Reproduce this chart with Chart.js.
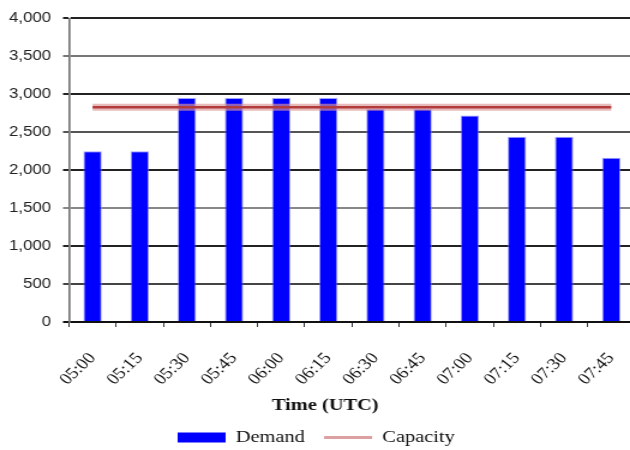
<!DOCTYPE html>
<html>
<head>
<meta charset="utf-8">
<script src="https://cdn.jsdelivr.net/npm/chart.js@4/dist/chart.umd.min.js"></script>
<style>
  html, body { margin: 0; padding: 0; background: #fff; overflow: hidden; }
  /* the chart is laid out narrow and widened horizontally */
  #wrap { width: 538px; height: 450px; transform: scaleX(1.2); transform-origin: 0 0; }
  canvas { display: block; }
</style>
</head>
<body>
<div id="wrap"><canvas id="c" width="538" height="450"></canvas></div>
<script>
// Demand vs capacity per 15-minute slot
const categories = ['05:00', '05:15', '05:30', '05:45', '06:00', '06:15',
                    '06:30', '06:45', '07:00', '07:15', '07:30', '07:45'];
const demand   = [2250, 2250, 2950, 2950, 2950, 2950, 2810, 2810, 2720, 2440, 2440, 2165];
const capacity = [2830, 2830, 2830, 2830, 2830, 2830, 2830, 2830, 2830, 2830, 2830, 2830];
const yTicks   = [0, 500, 1000, 1500, 2000, 2500, 3000, 3500, 4000];
const xTitle   = 'Time (UTC)';

// gridline shade for each y tick (0 .. 4000)
const gridShades = ['#111', '#444', '#222', '#888', '#222', '#555', '#222', '#777', '#222'];

const axisTitle = {
  id: 'axisTitle',
  afterDraw(chart) {
    const { ctx } = chart;
    const x = chart.scales.x;
    ctx.save();
    ctx.font = 'bold 17px "Liberation Serif"';
    ctx.fillStyle = '#111';
    ctx.textAlign = 'center';
    ctx.textBaseline = 'middle';
    ctx.fillText(xTitle, chart.width / 2 + 2, x.bottom - 7);
    ctx.restore();
  }
};

new Chart(document.getElementById('c'), {
  data: {
    labels: categories,
    datasets: [
      {
        type: 'line', label: 'Capacity', data: capacity, order: 0,
        borderColor: '#b23c3c', borderWidth: 2.5,
        pointRadius: 0, fill: false, tension: 0
      },
      {
        type: 'line', label: 'Capacity halo', data: capacity, order: 1,
        borderColor: 'rgba(220,150,150,0.65)', borderWidth: 7,
        pointRadius: 0, fill: false, tension: 0
      },
      {
        type: 'bar', label: 'Demand', data: demand, order: 2,
        backgroundColor: '#0000ff', borderColor: 'rgba(120,120,255,0.7)', borderWidth: 1,
        barPercentage: 0.39, categoryPercentage: 1.0
      }
    ]
  },
  options: {
    responsive: false,
    animation: false,
    devicePixelRatio: 1,
    layout: { autoPadding: false, padding: { left: -2, right: 9, top: 14.4, bottom: -6 } },
    scales: {
      x: {
        offset: true,
        grid: { drawOnChartArea: false, drawTicks: true, tickLength: 5, offset: true, color: '#333', lineWidth: 1 },
        border: { color: '#111', width: 2 },
        ticks: {
          maxRotation: 48, minRotation: 48, padding: 22, autoSkip: false,
          color: '#111', font: { family: '"Liberation Serif"', size: 16 }
        },
        afterFit(scale) {
          scale.height = 91;
          // the plot runs right up to the edges; no room kept for rotated labels
          scale.paddingLeft = 0;
          scale.paddingRight = 0;
        }
      },
      y: {
        min: 0, max: 4000,
        afterBuildTicks(scale) { scale.ticks = yTicks.map(v => ({ value: v })); },
        afterFit(scale) { scale.width = 59.5; },
        grid: {
          color: ctx => gridShades[ctx.index] || '#222',
          lineWidth: 2, tickLength: 5
        },
        border: { color: '#777', width: 1.7 },
        ticks: {
          padding: 10, color: '#222',
          font: { family: '"Liberation Sans"', size: 14 },
          callback: v => v.toLocaleString('en-US')
        }
      }
    },
    plugins: {
      tooltip: { enabled: false },
      legend: {
        position: 'bottom',
        labels: {
          usePointStyle: true, pointStyleWidth: 40, boxHeight: 10, padding: 16,
          color: '#111', font: { family: '"Liberation Serif"', size: 17 },
          generateLabels: () => [
            { text: 'Demand', pointStyle: 'rect', fillStyle: '#0000ff', strokeStyle: '#0000ff', lineWidth: 0, fontColor: '#111', datasetIndex: 2 },
            { text: 'Capacity', pointStyle: 'line', fillStyle: '#dca0a0', strokeStyle: '#dca0a0', lineWidth: 3, fontColor: '#111', datasetIndex: 0 }
          ]
        }
      }
    }
  },
  plugins: [axisTitle]
});
</script>
</body>
</html>
